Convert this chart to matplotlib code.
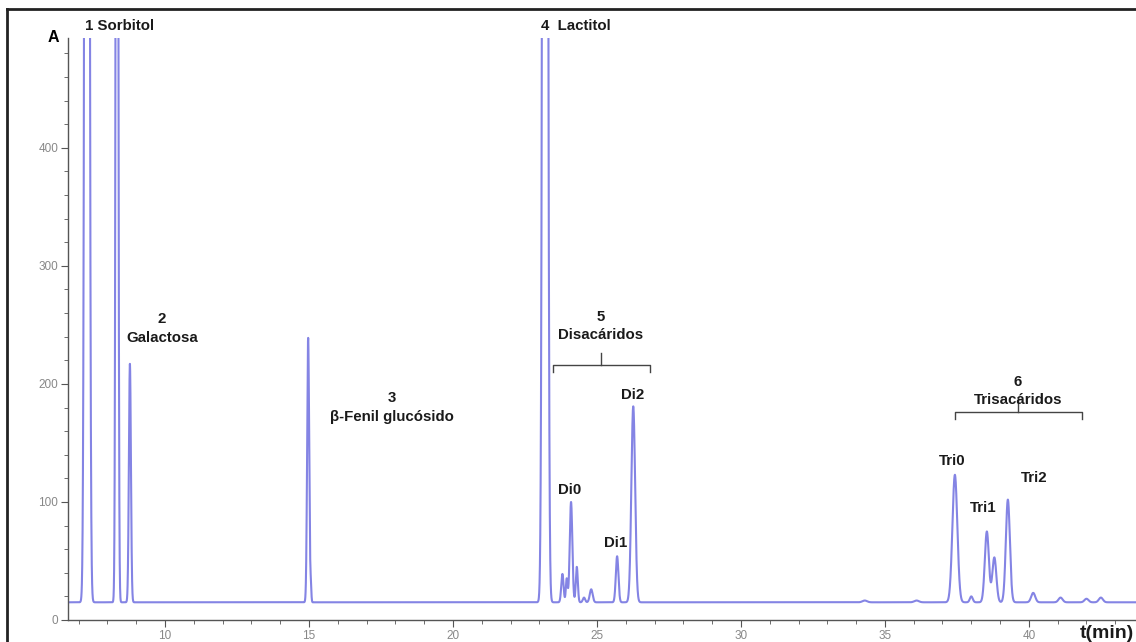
import numpy as np
import matplotlib.pyplot as plt
from matplotlib.lines import Line2D
from matplotlib.ticker import MultipleLocator

plt.rcParams['font.family'] = ['Liberation Sans', 'DejaVu Sans']

# peak table: retention time (min), height above baseline, width (sigma, min)
peak_times = [7.29, 8.33, 8.78, 14.97, 15.06, 23.20,
              23.80, 23.95, 24.10, 24.30, 24.55, 24.80, 25.70, 26.26,
              34.30, 36.10, 37.43, 38.00, 38.54, 38.80, 39.27, 40.15, 41.10, 42.00, 42.50]
peak_heights = [3000, 1500, 202, 224, 14, 3000,
                24, 20, 85, 30, 4, 11, 39, 166,
                1.5, 1.5, 108, 5, 60, 38, 87, 8, 4, 3, 4]
peak_widths = [0.055, 0.035, 0.035, 0.035, 0.02, 0.06,
               0.04, 0.03, 0.045, 0.035, 0.04, 0.05, 0.045, 0.065,
               0.08, 0.08, 0.085, 0.05, 0.07, 0.07, 0.07, 0.07, 0.07, 0.07, 0.07]
baseline = 15.0

t = np.linspace(6.6, 43.8, 12000)
signal = np.full_like(t, baseline)
for t0, h, s in zip(peak_times, peak_heights, peak_widths):
    signal += h * np.exp(-0.5 * ((t - t0) / s) ** 2)

fig = plt.figure(figsize=(11.36, 6.42), dpi=100)
ax = fig.add_axes([68 / 1136, 22 / 642, 1 - 68 / 1136, (620 - 38) / 642])

ax.plot(t, signal, color='#8484e4', lw=1.5)
ax.set_xlim(6.63, 43.72)
ax.set_ylim(0, 493)

for side in ('top', 'right'):
    ax.spines[side].set_visible(False)
for side in ('left', 'bottom'):
    ax.spines[side].set_color('#555555')
    ax.spines[side].set_linewidth(1.0)

ax.xaxis.set_major_locator(MultipleLocator(5))
ax.xaxis.set_minor_locator(MultipleLocator(1))
ax.yaxis.set_major_locator(MultipleLocator(100))
ax.yaxis.set_minor_locator(MultipleLocator(20))
ax.tick_params(which='both', direction='out', color='#555555', labelcolor='#888888',
               labelsize=8.5, pad=2)
ax.tick_params(which='major', length=5)
ax.tick_params(which='minor', length=3)
ax.set_xticks([10, 15, 20, 25, 30, 35, 40])
ax.set_yticks([0, 100, 200, 300, 400])

bold = dict(fontweight='bold', fontsize=10.8, color='#1a1a1a')

ax.text(-0.008, 493, 'A', transform=ax.get_yaxis_transform(), ha='right', va='center',
        fontsize=11.5, fontweight='bold', clip_on=False)

ax.text(7.22, 503, '1 Sorbitol', ha='left', va='center', clip_on=False, **bold)
ax.text(9.9, 247, '2\nGalactosa', ha='center', va='center', linespacing=1.4, **bold)
ax.text(17.88, 180, '3\nβ-Fenil glucósido', ha='center', va='center', linespacing=1.4, **bold)
ax.text(23.05, 503, '4  Lactitol', ha='left', va='center', clip_on=False, **bold)
ax.text(25.14, 249, '5\nDisacáridos', ha='center', va='center', linespacing=1.4, **bold)
ax.text(39.62, 194, '6\nTrisacáridos', ha='center', va='center', linespacing=1.4, **bold)

peak_labels = ['Di0', 'Di1', 'Di2', 'Tri0', 'Tri1', 'Tri2']
label_t = [24.06, 25.66, 26.25, 37.32, 38.43, 40.20]
label_y = [110, 65, 191, 135, 95, 120]
for name, lt, ly in zip(peak_labels, label_t, label_y):
    ax.text(lt, ly, name, ha='center', va='center', **bold)


def bracket(x0, x1, y, drop, rise):
    xm = (x0 + x1) / 2
    ax.plot([x0, x0, x1, x1], [y - drop, y, y, y - drop], color='#444444', lw=1.0)
    ax.plot([xm, xm], [y, y + rise], color='#444444', lw=1.0)


bracket(23.47, 26.84, 216, 6, 10)
bracket(37.43, 41.84, 176, 6, 12)

fig.text(1080 / 1136, 1 - 633 / 642, 't(min)', ha='left', va='center',
         fontsize=14, fontweight='bold', color='#1a1a1a')

# outer frame (top and left edges)
fig.add_artist(Line2D([7 / 1136, 1.0], [1 - 9 / 642, 1 - 9 / 642], color='#222222', lw=2,
                      transform=fig.transFigure))
fig.add_artist(Line2D([7 / 1136, 7 / 1136], [0, 1 - 9 / 642], color='#222222', lw=2,
                      transform=fig.transFigure))

fig.savefig('out.png', dpi=100)
